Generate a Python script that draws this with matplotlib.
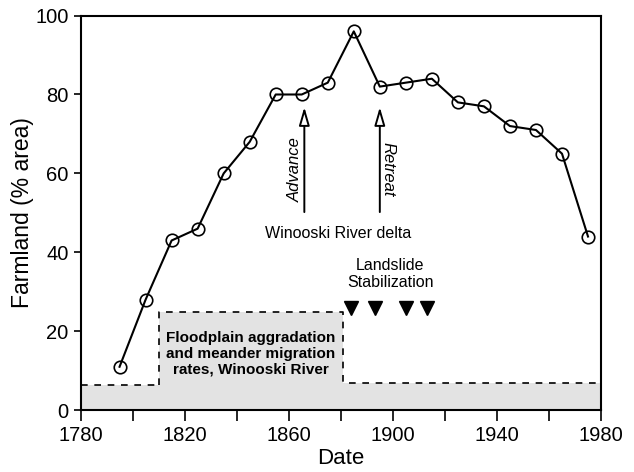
import matplotlib
matplotlib.use("Agg")
import matplotlib.pyplot as plt
import numpy as np

plt.rcParams['font.family'] = ['Liberation Sans', 'DejaVu Sans']

# farmland data, every ten years
years = [1795, 1805, 1815, 1825, 1835, 1845, 1855, 1865, 1875, 1885,
         1895, 1905, 1915, 1925, 1935, 1945, 1955, 1965, 1975]
farmland = [11, 28, 43, 46, 60, 68, 80, 80, 83, 96,
            82, 83, 84, 78, 77, 72, 71, 65, 44]

# floodplain aggradation band (step outline)
band_x = [1780, 1810, 1810, 1881, 1881, 1980]
band_y = [6.5, 6.5, 25, 25, 7, 7]

# landslide stabilization events
landslide_years = [1884, 1893, 1905, 1913]
landslide_level = 26

# delta arrows
advance_year = 1866
retreat_year = 1895

fig = plt.figure(figsize=(6.34, 4.72), dpi=100)
ax = fig.add_axes([0.127, 0.131, 0.821, 0.836])

# gray band
ax.fill_between(band_x, band_y, 0, color='#e3e3e3', zorder=1, lw=0)
ax.plot(band_x[:2], band_y[:2], color='k', ls=(0, (4, 4)), lw=1.2, zorder=2)
ax.plot(band_x[1:5], band_y[1:5], color='k', ls=(0, (4, 4)), lw=1.2, zorder=2)
ax.plot([1883, band_x[5]], band_y[4:], color='k', ls=(0, (4, 4)), lw=1.2, zorder=2)

# main series
ax.plot(years, farmland, color='k', lw=1.5, marker='o', ms=9,
        mfc='none', mec='k', mew=1.2, zorder=3)

# arrows
for yr in (advance_year, retreat_year):
    ax.annotate('', xy=(yr, 77.5), xytext=(yr, 49.5),
                arrowprops=dict(arrowstyle='-|>,head_length=1.1,head_width=0.32',
                                fc='white', ec='k', lw=1.4))
ax.text(advance_year - 3.6, 61, 'Advance', rotation=90, style='italic',
        ha='center', va='center', fontsize=12)
ax.text(retreat_year + 3.2, 61, 'Retreat', rotation=-90, style='italic',
        ha='center', va='center', fontsize=12)
ax.text(1879, 44.7, 'Winooski River delta', ha='center', va='center', fontsize=11.5)

# landslides
ax.plot(landslide_years, [landslide_level] * len(landslide_years), ls='none',
        marker='v', ms=10.5, color='k', zorder=3)
ax.text(1899, 34.5, 'Landslide\nStabilization', ha='center', va='center',
        fontsize=11.5, linespacing=1.1)

ax.text(1845.5, 14.2, 'Floodplain aggradation\nand meander migration\nrates, Winooski River',
        ha='center', va='center', fontsize=11, fontweight='bold', linespacing=1.15)

ax.set_xlim(1780, 1980)
ax.set_ylim(0, 100)
ax.set_xticks(np.arange(1780, 1981, 40))
ax.set_xticks(np.arange(1780, 1981, 20), minor=True)
ax.set_yticks(np.arange(0, 101, 20))
ax.tick_params(axis='both', which='both', direction='out', width=1.2, labelsize=14.5)
ax.tick_params(axis='x', which='both', length=8)
ax.tick_params(axis='y', length=5)
for s in ax.spines.values():
    s.set_linewidth(1.5)

ax.set_xlabel('Date', fontsize=16, labelpad=2)
ax.set_ylabel('Farmland (% area)', fontsize=16.5, labelpad=1)

fig.savefig('out.png', dpi=100)
